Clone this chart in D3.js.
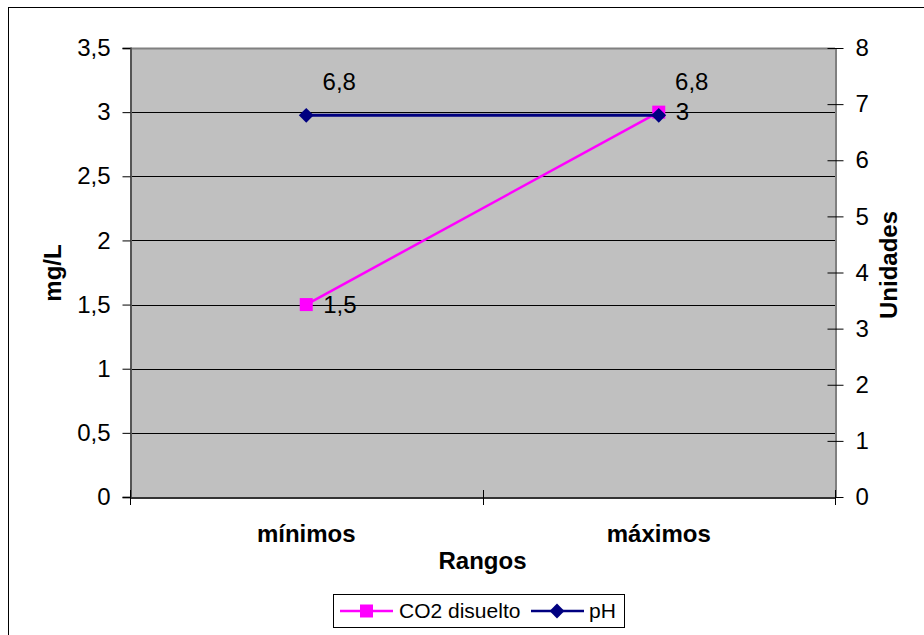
<!DOCTYPE html>
<html>
<head>
<meta charset="utf-8">
<script src="https://cdn.jsdelivr.net/npm/d3@7"></script>
<style>
  body { margin: 0; background: #fff; }
  text { font-family: "Liberation Sans", Arial, sans-serif; fill: #000; }
</style>
</head>
<body>
<script>
// data
var categories = ["mínimos", "máximos"];
var co2 = [1.5, 3];
var ph = [6.8, 6.8];
var leftTicks = [0, 0.5, 1, 1.5, 2, 2.5, 3, 3.5];
var rightTicks = [0, 1, 2, 3, 4, 5, 6, 7, 8];

var W = 924, H = 635;
var plot = {left: 130, right: 835, top: 48, bottom: 497};

var svg = d3.select("body").append("svg")
    .attr("width", W)
    .attr("height", H);

// outer chart border (runs off the picture on right and bottom)
svg.append("rect")
    .attr("x", 8.5).attr("y", 7.5)
    .attr("width", W).attr("height", H)
    .attr("fill", "#fff").attr("stroke", "#000").attr("stroke-width", 1);

var fmt = function(d) { return String(d).replace(".", ","); };

var x = d3.scaleBand()
    .domain(categories)
    .range([plot.left, plot.right]);

var yL = d3.scaleLinear().domain([0, 3.5]).range([plot.bottom, plot.top]);
var yR = d3.scaleLinear().domain([0, 8]).range([plot.bottom, plot.top]);

// plot background
svg.append("rect")
    .attr("x", plot.left).attr("y", plot.top)
    .attr("width", plot.right - plot.left).attr("height", plot.bottom - plot.top)
    .attr("fill", "#c0c0c0");
svg.append("line")
    .attr("x1", plot.left).attr("x2", plot.right)
    .attr("y1", plot.top + 0.5).attr("y2", plot.top + 0.5)
    .attr("stroke", "#808080").attr("stroke-width", 2);

// gridlines
svg.append("g").selectAll("line")
    .data(leftTicks.slice(1, -1))
    .enter().append("line")
    .attr("x1", plot.left).attr("x2", plot.right)
    .attr("y1", function(d) { return Math.round(yL(d)) + 0.5; })
    .attr("y2", function(d) { return Math.round(yL(d)) + 0.5; })
    .attr("stroke", "#000").attr("stroke-width", 1);

// left axis
var gl = svg.append("g")
    .attr("transform", "translate(" + (plot.left + 0.5) + ",0)")
    .call(d3.axisLeft(yL).tickValues(leftTicks).tickFormat(fmt).tickSize(8).tickPadding(12));
gl.selectAll("text").attr("font-size", 24).attr("font-family", null);
gl.select(".domain").attr("stroke", "#555").attr("stroke-width", 2);

// right axis
var gr = svg.append("g")
    .attr("transform", "translate(" + (plot.right + 0.5) + ",0)")
    .call(d3.axisRight(yR).tickValues(rightTicks).tickSizeInner(8).tickSizeOuter(0).tickPadding(12));
gr.selectAll(".tick line").attr("x1", -8);
gr.selectAll("text").attr("font-size", 24).attr("font-family", null);

// bottom axis
var gb = svg.append("g")
    .attr("transform", "translate(0," + (plot.bottom + 0.5) + ")")
    .call(d3.axisBottom(x).tickSize(0).tickPadding(27));
gb.selectAll("text").attr("font-size", 24).attr("font-family", null).attr("font-weight", "bold");
gb.select(".domain").attr("stroke", "#333").attr("stroke-width", 2);
// category separators
svg.append("g").selectAll("line")
    .data([plot.left, plot.left + x.bandwidth(), plot.right])
    .enter().append("line")
    .attr("x1", function(d) { return Math.round(d) + 0.5; })
    .attr("x2", function(d) { return Math.round(d) + 0.5; })
    .attr("y1", plot.bottom - 7).attr("y2", plot.bottom + 8)
    .attr("stroke", "#000");

// axis titles
svg.append("text")
    .attr("x", (plot.left + plot.right) / 2).attr("y", 569)
    .attr("text-anchor", "middle")
    .attr("font-size", 24).attr("font-weight", "bold")
    .text("Rangos");
svg.append("text")
    .attr("transform", "translate(61,273) rotate(-90)")
    .attr("text-anchor", "middle")
    .attr("font-size", 24).attr("font-weight", "bold")
    .text("mg/L");
svg.append("text")
    .attr("transform", "translate(897,265) rotate(-90)")
    .attr("text-anchor", "middle")
    .attr("font-size", 24).attr("font-weight", "bold")
    .text("Unidades");

var cx = function(i) { return x(categories[i]) + x.bandwidth() / 2; };

// CO2 series
var lineL = d3.line()
    .x(function(d, i) { return cx(i); })
    .y(function(d) { return yL(d); });
svg.append("path")
    .datum(co2)
    .attr("d", lineL)
    .attr("fill", "none").attr("stroke", "#ff00ff").attr("stroke-width", 2.5);
svg.append("g").selectAll("rect")
    .data(co2)
    .enter().append("rect")
    .attr("x", function(d, i) { return cx(i) - 6.5; })
    .attr("y", function(d) { return yL(d) - 6.5; })
    .attr("width", 13).attr("height", 13)
    .attr("fill", "#ff00ff");

// pH series
var lineR = d3.line()
    .x(function(d, i) { return cx(i); })
    .y(function(d) { return yR(d); });
svg.append("path")
    .datum(ph)
    .attr("d", lineR)
    .attr("fill", "none").attr("stroke", "#000080").attr("stroke-width", 3);
var diamond = d3.symbol().type(d3.symbolDiamond2).size(140);
svg.append("g").selectAll("path")
    .data(ph)
    .enter().append("path")
    .attr("d", diamond)
    .attr("transform", function(d, i) { return "translate(" + cx(i) + "," + yR(d) + ")"; })
    .attr("fill", "#000080");

// data labels
svg.append("g").selectAll("text")
    .data(co2)
    .enter().append("text")
    .attr("x", function(d, i) { return cx(i) + 17; })
    .attr("y", function(d) { return yL(d) + 8; })
    .attr("font-size", 24)
    .text(fmt);
svg.append("g").selectAll("text")
    .data(ph)
    .enter().append("text")
    .attr("x", function(d, i) { return cx(i) + 33; })
    .attr("y", function(d) { return yR(d) - 25; })
    .attr("text-anchor", "middle")
    .attr("font-size", 24)
    .text(fmt);

// legend
var lg = svg.append("g").attr("transform", "translate(333,594)");
lg.append("rect")
    .attr("x", 0.5).attr("y", 0.5).attr("width", 291).attr("height", 33)
    .attr("fill", "#fff").attr("stroke", "#000");
var items = [
  {name: "CO2 disuelto", color: "#ff00ff", shape: "square", x0: 7, tx: 66},
  {name: "pH", color: "#000080", shape: "diamond", x0: 198, tx: 256}
];
items.forEach(function(it) {
  lg.append("line")
    .attr("x1", it.x0).attr("x2", it.x0 + 53)
    .attr("y1", 17).attr("y2", 17)
    .attr("stroke", it.color).attr("stroke-width", 2.5);
  if (it.shape === "square") {
    lg.append("rect")
      .attr("x", it.x0 + 20).attr("y", 10.5).attr("width", 13).attr("height", 13)
      .attr("fill", it.color);
  } else {
    lg.append("path")
      .attr("d", diamond)
      .attr("transform", "translate(" + (it.x0 + 26) + ",17)")
      .attr("fill", it.color);
  }
  lg.append("text")
    .attr("x", it.tx).attr("y", 24)
    .attr("font-size", 21)
    .text(it.name);
});
</script>
</body>
</html>
